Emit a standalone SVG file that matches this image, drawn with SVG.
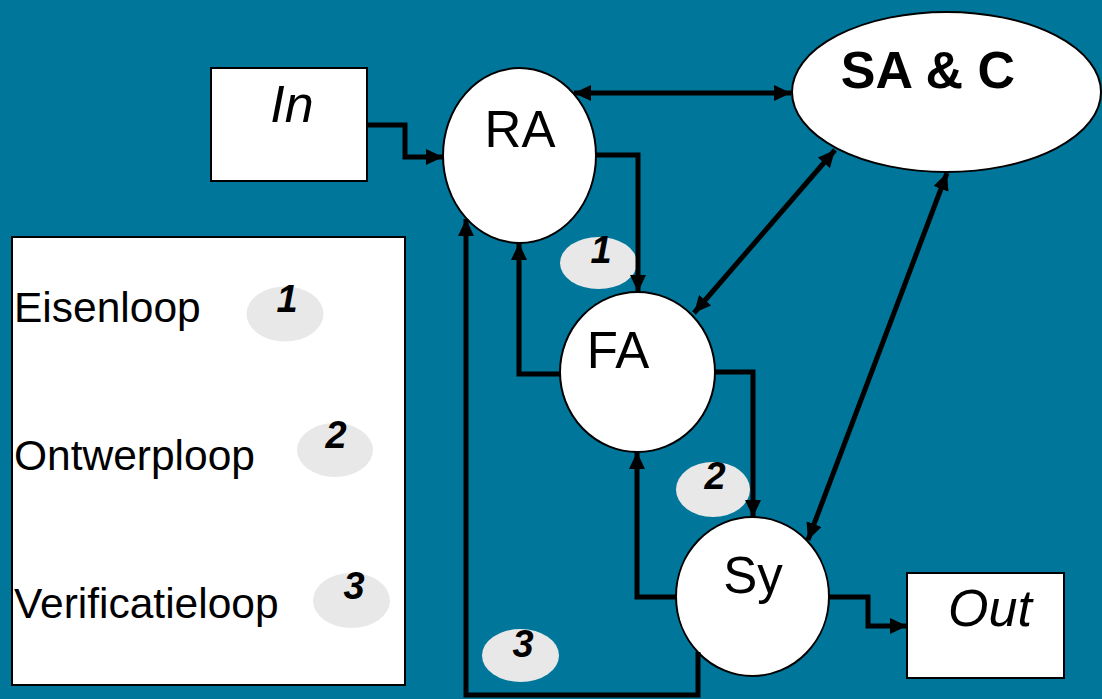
<svg xmlns="http://www.w3.org/2000/svg" width="1102" height="699" viewBox="0 0 1102 699">
  <style>
    .node { fill: #ffffff; stroke: #000000; stroke-width: 2; }
    .box { fill: #ffffff; stroke: #000000; stroke-width: 2; }
    .label { font-family: "Liberation Sans", Arial, sans-serif; fill: #000000; }
    .big { font-size: 51px; }
    .ital { font-size: 52px; font-style: italic; }
    .legend { font-size: 42.5px; }
    .tag { fill: #e8e8e8; stroke: none; }
    .num { font-family: "Liberation Sans", Arial, sans-serif; font-size: 38px; font-weight: bold; font-style: italic; fill: #000000; }
    .wire { fill: none; stroke: #000000; stroke-width: 5; stroke-linejoin: miter; }
    .one { marker-end: url(#head); }
    .two { marker-start: url(#head); marker-end: url(#head); }
  </style>
  <defs>
    <marker id="head" markerUnits="userSpaceOnUse" markerWidth="18" markerHeight="16" refX="17" refY="8" orient="auto-start-reverse">
      <path d="M0,0 L17,8 L0,16 z" fill="#000000"/>
    </marker>
  </defs>

  <!-- background -->
  <rect x="0" y="0" width="1102" height="699" fill="#00769a"/>

  <!-- legend -->
  <g id="legend">
    <rect class="box" x="12" y="237" width="393" height="448" stroke-width="1.5"/>
    <text class="label legend" x="14" y="322">Eisenloop</text>
    <text class="label legend" x="14" y="470">Ontwerploop</text>
    <text class="label legend" x="14" y="618">Verificatieloop</text>
    <ellipse class="tag" cx="285" cy="314" rx="38.5" ry="27.5"/>
    <text class="num" x="287" y="312" text-anchor="middle">1</text>
    <ellipse class="tag" cx="335" cy="450" rx="38" ry="27"/>
    <text class="num" x="336" y="448" text-anchor="middle">2</text>
    <ellipse class="tag" cx="351.5" cy="600.5" rx="38.5" ry="27.5"/>
    <text class="num" x="354" y="599" text-anchor="middle">3</text>
  </g>

  <!-- loop tags -->
  <g id="tag1">
    <ellipse class="tag" cx="598.5" cy="263" rx="38.5" ry="26"/>
    <text class="num" x="601" y="263" text-anchor="middle">1</text>
  </g>
  <g id="tag2">
    <ellipse class="tag" cx="713" cy="489.5" rx="37" ry="27.5"/>
    <text class="num" x="715" y="489" text-anchor="middle">2</text>
  </g>
  <g id="tag3">
    <ellipse class="tag" cx="520.5" cy="655.5" rx="38.5" ry="26.5"/>
    <text class="num" x="523" y="657" text-anchor="middle">3</text>
  </g>

  <!-- nodes -->
  <g id="in">
    <rect class="box" x="211" y="68" width="156" height="113"/>
    <text class="label ital" x="292" y="122" text-anchor="middle">In</text>
  </g>
  <g id="ra">
    <ellipse class="node" cx="519.5" cy="155.5" rx="76.5" ry="87.5"/>
    <text class="label big" x="520" y="147" text-anchor="middle">RA</text>
  </g>
  <g id="sac">
    <ellipse class="node" cx="946.5" cy="92" rx="154.5" ry="80"/>
    <text class="label" x="928" y="88" text-anchor="middle" font-size="52" font-weight="bold">SA &amp; C</text>
  </g>
  <g id="fa">
    <ellipse class="node" cx="637.5" cy="372" rx="77.5" ry="80"/>
    <text class="label big" x="618" y="368" text-anchor="middle">FA</text>
  </g>
  <g id="sy">
    <ellipse class="node" cx="752.5" cy="596.5" rx="76.5" ry="79.5"/>
    <text class="label big" x="753" y="593" text-anchor="middle">Sy</text>
  </g>
  <g id="out">
    <rect class="box" x="907" y="573" width="157" height="105"/>
    <text class="label ital" x="990" y="626" text-anchor="middle">Out</text>
  </g>

  <!-- connectors -->
  <g id="connectors">
    <path class="wire one" d="M367,125 H405 V157 H443"/>
    <path class="wire two" d="M574,93 H791"/>
    <path class="wire one" d="M596,155 H638 V292"/>
    <path class="wire one" d="M560,374 H519 V243"/>
    <path class="wire one" d="M715,372 H753 V517"/>
    <path class="wire one" d="M676,597 H637 V452"/>
    <path class="wire one" d="M698,652 V695 H466 V219"/>
    <path class="wire one" d="M829,597 H868 V626 H907"/>
    <path class="wire two" d="M835,150 L694,313"/>
    <path class="wire two" d="M947,173 L808,540"/>
  </g>
</svg>
